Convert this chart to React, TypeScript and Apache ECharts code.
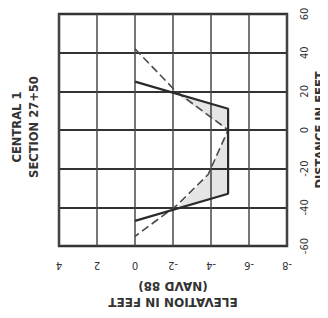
import React, { useEffect, useRef } from "react";
import * as echarts from "echarts";

// Elevation (ft, NAVD 88) vs distance (ft) pairs: [elevation, distance]
const designProfile: number[][] = [
  [0, 25],
  [-4.9, 11],
  [-4.9, -33],
  [0, -47],
];
const existingProfile: number[][] = [
  [0, 42],
  [-2.1, 20.5],
  [-4.9, 0],
  [-3.85, -23],
  [-2.2, -39],
  [0, -55],
];
const upperFill: number[][] = [
  [-2.0, 19.6],
  [-4.9, 11],
  [-4.9, 0],
];
const lowerFill: number[][] = [
  [-4.9, 0],
  [-4.9, -33],
  [-2.2, -40.5],
  [-3.85, -23],
];
const elevationTicks = { min: -8, max: 4, step: 2 };
const distanceTicks = { min: -60, max: 60, step: 20 };
const titleLines = ["CENTRAL 1", "SECTION 27+50"];

const FONT = "'DejaVu Sans', 'Liberation Sans', Arial, sans-serif";
const INK = "#333";

export default function App() {
  const ref = useRef<HTMLDivElement>(null);
  useEffect(() => {
    if (!ref.current) return;
    const chart = echarts.init(ref.current, undefined, { renderer: "svg" });
    const polyRender = (params: any, api: any) => {
      const pts = params.dataIndex === 0 ? upperFill : lowerFill;
      return {
        type: "polygon",
        shape: { points: pts.map((p) => api.coord(p)) },
        style: { fill: "rgba(0,0,0,0.1)", stroke: "none" },
      };
    };
    chart.setOption({
      animation: false,
      backgroundColor: "#fff",
      textStyle: { fontFamily: FONT },
      grid: {
        left: 59,
        right: 41,
        top: 14,
        bottom: 72,
        outerBoundsMode: "none",
        containLabel: false,
        show: true,
        borderColor: INK,
        borderWidth: 2.5,
        backgroundColor: "transparent",
      },
      xAxis: {
        type: "value",
        min: elevationTicks.min,
        max: elevationTicks.max,
        interval: elevationTicks.step,
        inverse: true,
        position: "bottom",
        axisLine: { show: false },
        axisTick: { show: false },
        splitLine: { show: true, lineStyle: { color: "#4a4a4a", width: 1.5 } },
        axisLabel: { rotate: 180, margin: 14, fontSize: 10, color: INK, fontFamily: FONT },
        name: "ELEVATION IN FEET\n(NAVD 88)",
        nameLocation: "middle",
        nameRotate: 180,
        nameGap: 32,
        nameTextStyle: { fontSize: 12, fontWeight: "bold", color: INK, fontFamily: FONT, lineHeight: 16 },
      },
      yAxis: {
        type: "value",
        min: distanceTicks.min,
        max: distanceTicks.max,
        interval: distanceTicks.step,
        position: "right",
        axisLine: { show: false },
        axisTick: { show: false },
        splitLine: { show: true, lineStyle: { color: "#333", width: 2 } },
        axisLabel: { rotate: 90, margin: 12, fontSize: 10, color: INK, fontFamily: FONT },
        name: "DISTANCE IN FEET",
        nameLocation: "middle",
        nameRotate: 90,
        nameGap: 27,
        nameMoveOverlap: false,
        nameTextStyle: { fontSize: 11.5, fontWeight: "bold", color: INK, fontFamily: FONT },
      },
      graphic: [
        {
          type: "text",
          x: 25,
          y: 127,
          rotation: Math.PI / 2,
          style: {
            text: titleLines.join("\n"),
            fontSize: 11.5,
            fontWeight: "bold",
            lineHeight: 17,
            fontFamily: FONT,
            fill: INK,
            textAlign: "center",
            textVerticalAlign: "middle",
          },
        },
      ],
      series: [
        {
          type: "custom",
          renderItem: polyRender,
          data: [0, 1],
          silent: true,
          z: 1,
        },
        {
          type: "line",
          data: existingProfile,
          symbol: "none",
          lineStyle: { color: "#4a4a4a", width: 1.6, type: [8, 4] },
          z: 3,
        },
        {
          type: "line",
          data: designProfile,
          symbol: "none",
          lineStyle: { color: "#2a2a2a", width: 2.2 },
          z: 4,
        },
      ],
    });
    return () => chart.dispose();
  }, []);
  return <div ref={ref} style={{ width: 328, height: 318, margin: -8 }} />;
}
